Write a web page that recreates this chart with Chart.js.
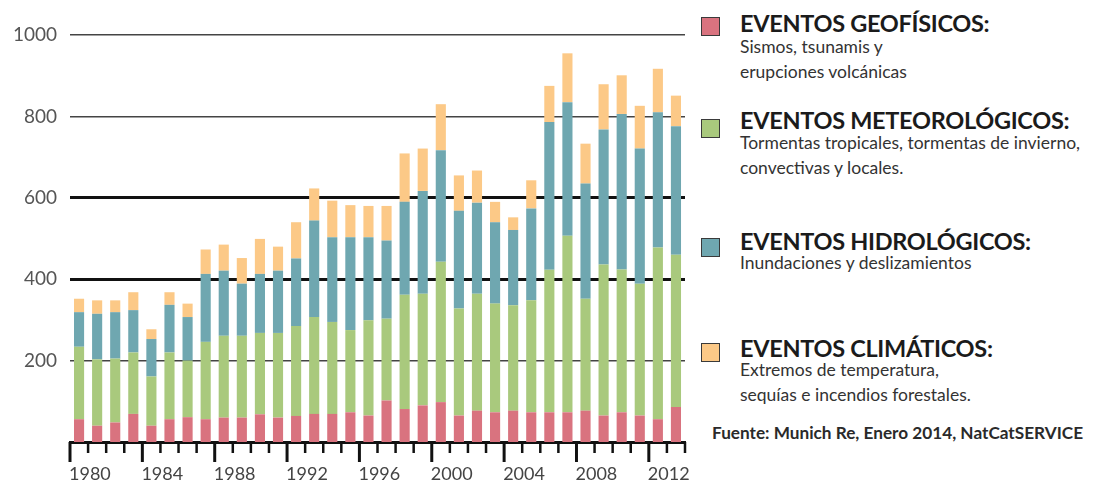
<!DOCTYPE html>
<html lang="es">
<head>
  <meta charset="UTF-8">
  <title>Eventos naturales 1980-2013</title>
  <style>
    body {
      margin: 0;
      width: 1097px;
      height: 484px;
      background: #ffffff;
      font-family: Lato, "Open Sans", sans-serif;
      position: relative;
      overflow: hidden;
    }
    #wrap {
      position: absolute;
      left: 0;
      top: 0;
      width: 700px;
      height: 484px;
    }
    .caja {
      position: absolute;
      left: 701px;
      width: 19px;
      height: 19px;
      border: 1.5px solid #3a3a3a;
      box-sizing: border-box;
    }
    .titulo {
      position: absolute;
      left: 740px;
      font-weight: bold;
      font-size: 23.5px;
      color: #1b1b1b;
      letter-spacing: -0.3px;
      white-space: nowrap;
    }
    .texto {
      position: absolute;
      left: 740px;
      font-size: 17.5px;
      line-height: 25px;
      color: #333;
      white-space: nowrap;
    }
    #fuente {
      position: absolute;
      left: 712px;
      top: 422px;
      font-size: 17.2px;
      font-weight: bold;
      color: #2a2a2a;
      white-space: nowrap;
    }
  </style>
</head>
<body>
  <div id="wrap"><canvas id="chart"></canvas></div>

  <div class="caja" style="top:17px;background:#d9737f"></div>
  <div class="titulo" style="top:9px">EVENTOS GEOFÍSICOS:</div>
  <div class="texto" style="top:34px">Sismos, tsunamis y<br>erupciones volcánicas</div>

  <div class="caja" style="top:119px;background:#a9c97d"></div>
  <div class="titulo" style="top:106px">EVENTOS METEOROLÓGICOS:</div>
  <div class="texto" style="top:130px">Tormentas tropicales, tormentas de invierno,<br>convectivas y locales.</div>

  <div class="caja" style="top:238px;background:#6fa7b0"></div>
  <div class="titulo" style="top:227px">EVENTOS HIDROLÓGICOS:</div>
  <div class="texto" style="top:250px">Inundaciones y deslizamientos</div>

  <div class="caja" style="top:343px;background:#fcc987"></div>
  <div class="titulo" style="top:334px">EVENTOS CLIMÁTICOS:</div>
  <div class="texto" style="top:357px">Extremos de temperatura,<br>sequías e incendios forestales.</div>

  <div id="fuente">Fuente: Munich Re, Enero 2014, NatCatSERVICE</div>

  <script src="https://cdn.jsdelivr.net/npm/chart.js"></script>
  <script>
    const anios = [];
    for (let a = 1980; a <= 2013; a++) anios.push(String(a));

    const geofisicos = [56, 40, 48, 69, 40, 56, 61, 56, 60, 60, 68, 60, 64, 69, 69, 73, 65,
                        102, 81, 90, 98, 65, 77, 73, 77, 73, 73, 73, 77, 65, 73, 65, 56, 86];
    const meteorologicos = [178, 163, 157, 151, 121, 164, 139, 190, 201, 201, 200, 208, 221, 238, 226, 202, 234,
                            201, 281, 274, 345, 263, 287, 267, 259, 275, 350, 434, 275, 371, 351, 324, 422, 374];
    const hidrologicos = [85, 112, 114, 104, 92, 117, 107, 167, 160, 128, 145, 153, 166, 237, 208, 228, 204,
                          192, 228, 253, 274, 240, 224, 200, 185, 226, 363, 328, 283, 332, 382, 332, 332, 316];
    const climaticos = [33, 33, 29, 44, 24, 31, 33, 60, 64, 63, 86, 59, 89, 79, 90, 79, 77,
                        85, 119, 104, 113, 87, 79, 50, 31, 69, 89, 120, 98, 111, 95, 105, 107, 75];

    const ticksY = [0, 200, 400, 600, 800, 1000];

    // marcas del eje x: cortas entre barras, largas cada 4 años
    const marcasX = {
      id: 'marcasX',
      afterDraw(chart) {
        const x = chart.scales.x;
        const ctx = chart.ctx;
        const n = anios.length;
        const paso = (x.right - x.left) / n;
        const base = chart.chartArea.bottom;
        ctx.save();
        ctx.strokeStyle = '#111';
        for (let i = 0; i <= n; i++) {
          const px = x.left + i * paso;
          const larga = i % 4 === 0;
          ctx.lineWidth = larga ? 3 : 2.5;
          ctx.beginPath();
          ctx.moveTo(px, base);
          ctx.lineTo(px, base + (larga ? 20 : 11));
          ctx.stroke();
        }
        ctx.restore();
      }
    };

    function serie(label, data, color) {
      return {
        label,
        data,
        backgroundColor: color,
        borderWidth: 0,
        barPercentage: 0.56,
        categoryPercentage: 1
      };
    }

    new Chart(document.getElementById('chart'), {
      type: 'bar',
      data: {
        labels: anios,
        datasets: [
          serie('Eventos geofísicos', geofisicos, '#d9737f'),
          serie('Eventos meteorológicos', meteorologicos, '#a9c97d'),
          serie('Eventos hidrológicos', hidrologicos, '#6fa7b0'),
          serie('Eventos climáticos', climaticos, '#fcc987')
        ]
      },
      options: {
        responsive: true,
        maintainAspectRatio: false,
        animation: false,
        layout: { padding: { top: 35, right: 15, left: 0, bottom: 0 } },
        plugins: {
          legend: { display: false },
          tooltip: { enabled: false }
        },
        scales: {
          x: {
            stacked: true,
            grid: { display: false },
            border: { display: true, color: '#111', width: 3 },
            afterFit: (s) => { s.height = 42; },
            ticks: {
              autoSkip: false,
              maxRotation: 0,
              align: 'start',
              labelOffset: -10,
              padding: 13,
              color: '#444',
              font: { family: 'Lato', size: 18 },
              callback: function (v, i) {
                return i % 4 === 0 ? anios[i] : '';
              }
            }
          },
          y: {
            stacked: true,
            min: 0,
            max: 1000,
            afterFit: (s) => { s.width = 70; },
            afterBuildTicks: (s) => { s.ticks = ticksY.map(v => ({ value: v })); },
            border: { display: false },
            grid: {
              drawTicks: false,
              color: (c) => (c.tick.value === 400 || c.tick.value === 600) ? '#111' : '#444',
              lineWidth: (c) => {
                const v = c.tick.value;
                if (v === 0) return 0;
                if (v === 400 || v === 600) return 3;
                return 1.5;
              }
            },
            ticks: {
              padding: 13,
              color: '#555',
              font: { family: 'Lato', size: 19 },
              callback: (v) => v === 0 ? '' : v
            }
          }
        }
      },
      plugins: [marcasX]
    });
  </script>
</body>
</html>
